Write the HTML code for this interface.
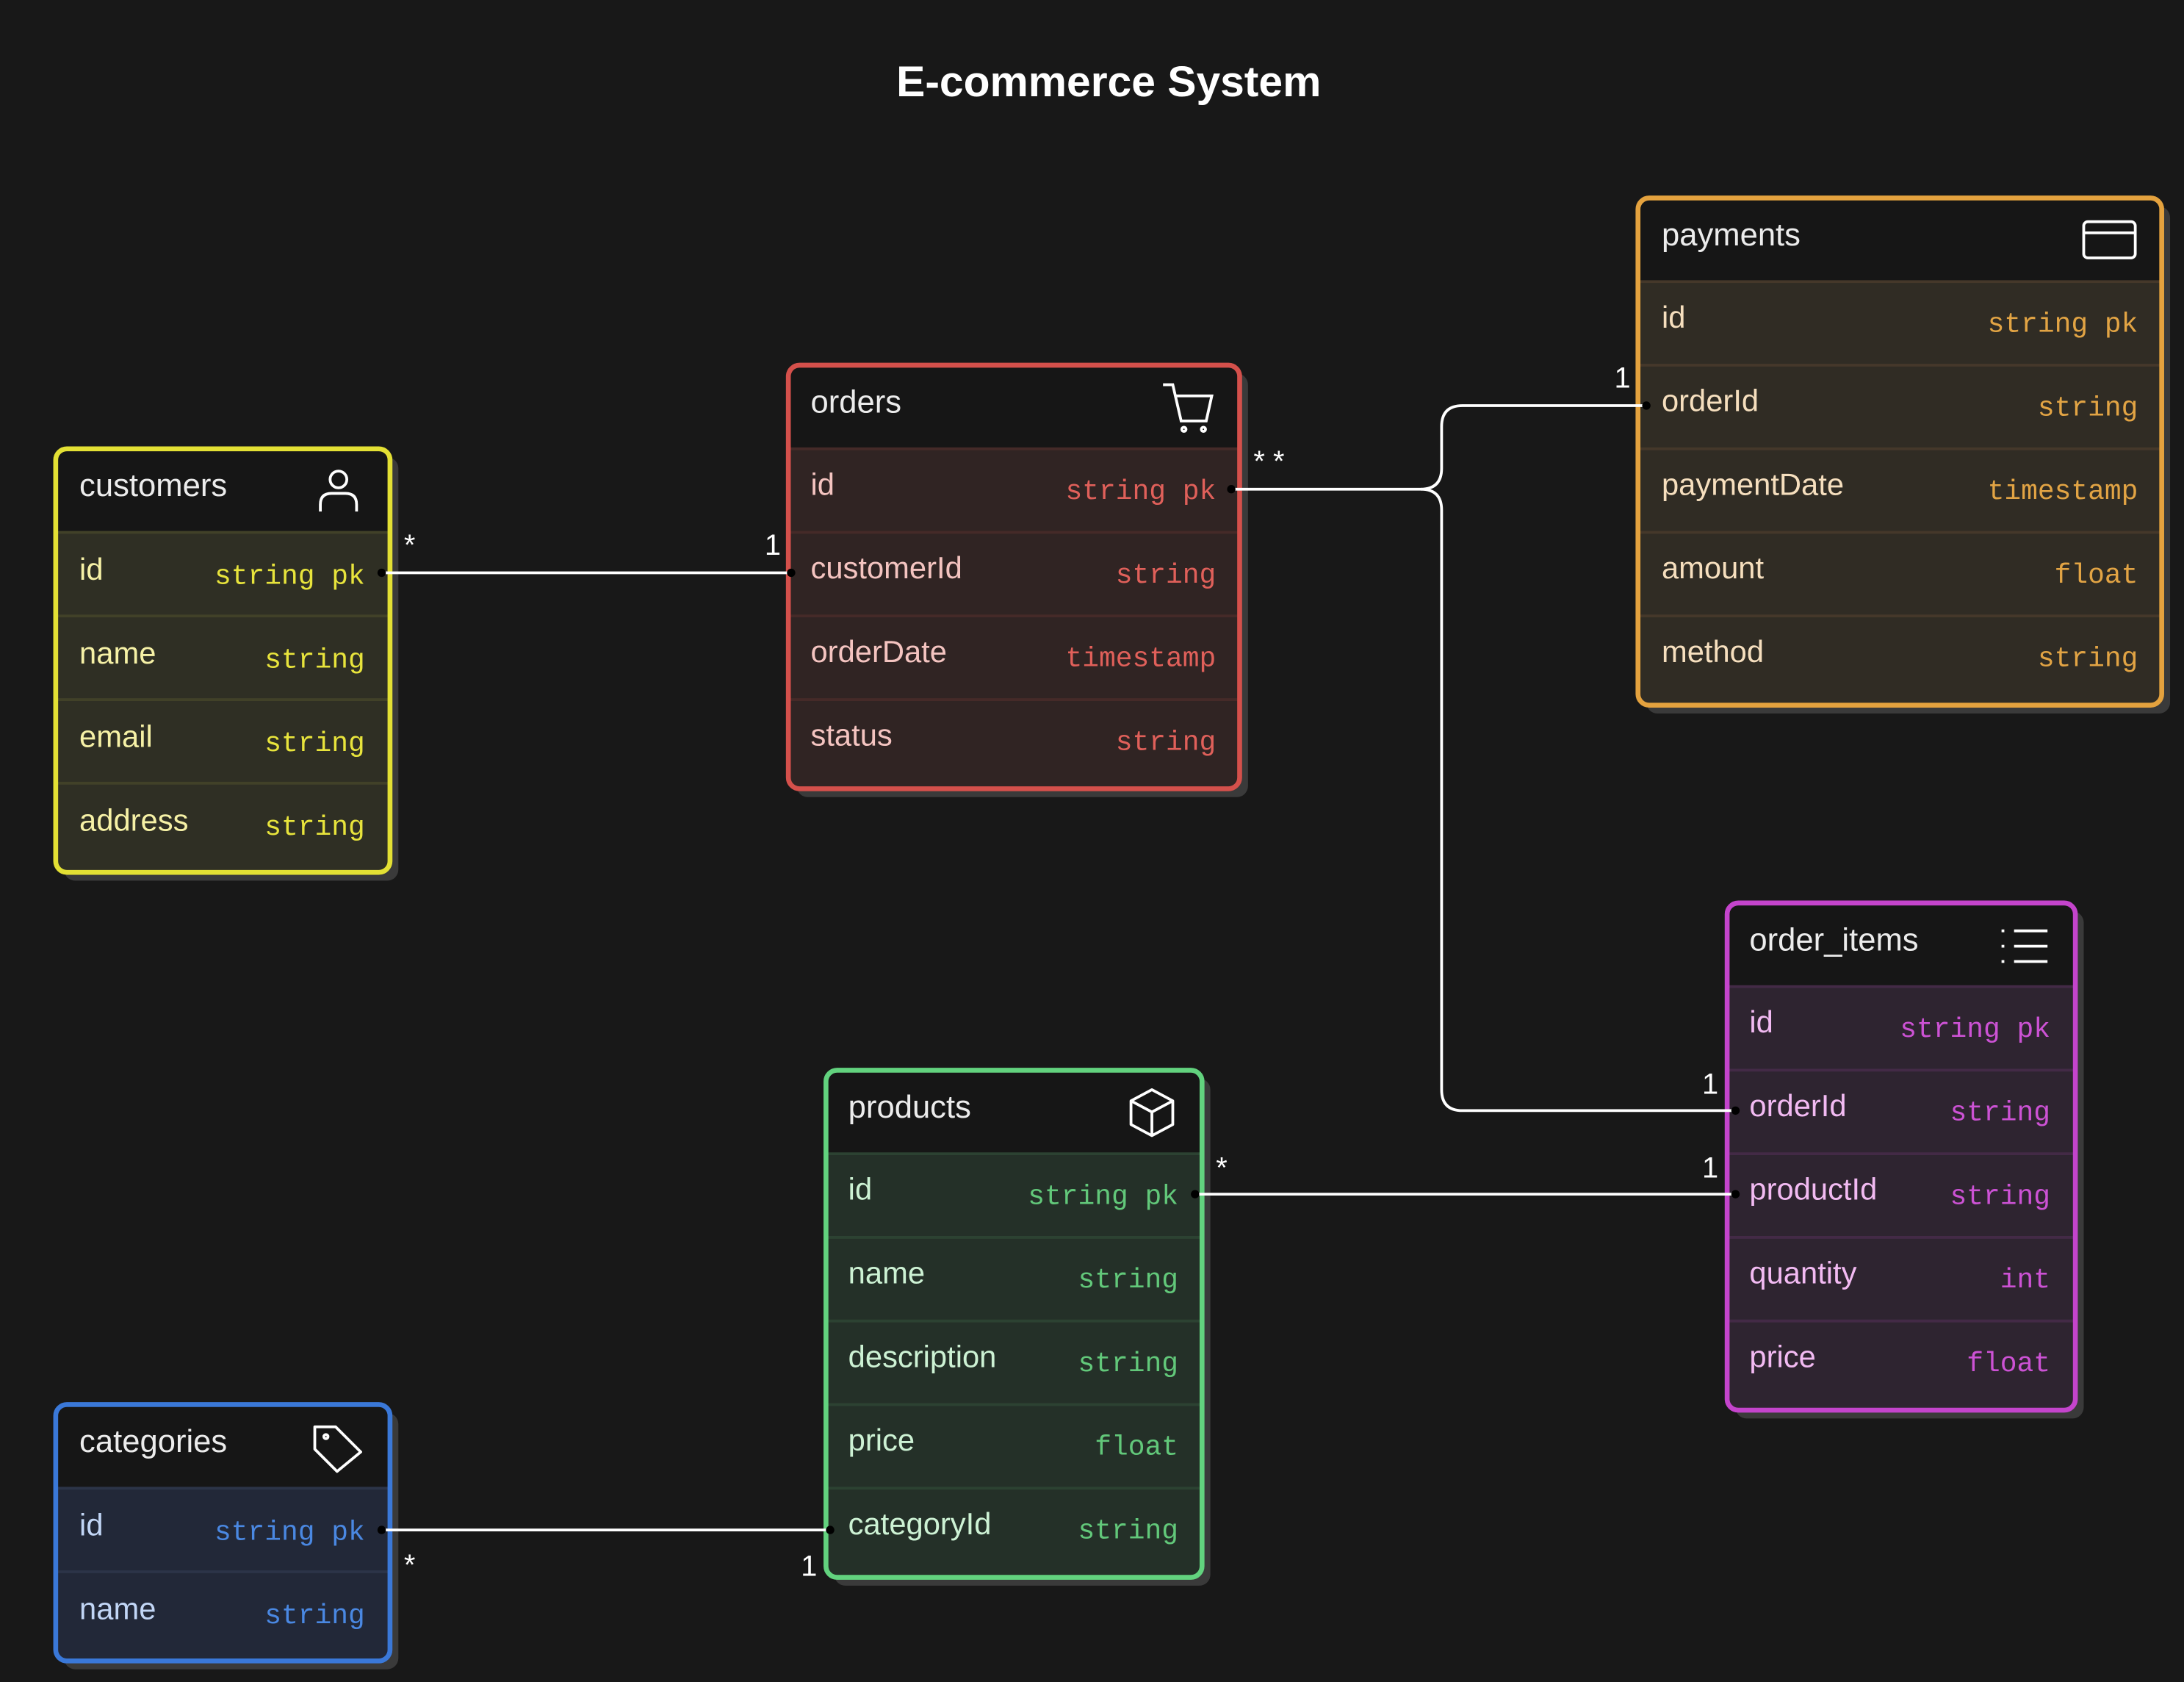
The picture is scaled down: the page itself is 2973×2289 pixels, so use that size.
<!DOCTYPE html>
<html><head><meta charset="utf-8"><style>
html,body{margin:0;padding:0;background:#181818;}
svg{display:block}
.h{font-family:"Liberation Sans",sans-serif;font-size:23px;fill:#ececec}
.n{font-family:"Liberation Sans",sans-serif;font-size:22px}
.t{font-family:"Liberation Mono",monospace;font-size:20px;text-anchor:end}
.l{font-family:"Liberation Sans",sans-serif;font-size:21px;fill:#fff}
</style></head><body>
<svg width="2973" height="2289" viewBox="0 0 1568 1207" xmlns="http://www.w3.org/2000/svg">
<rect width="1568" height="1207" fill="#181818"/>
<text x="796" y="69" text-anchor="middle" font-family="Liberation Sans,sans-serif" font-weight="bold" font-size="31" fill="#fff">E-commerce System</text>

<!-- customers -->
<g>
<rect x="46" y="328" width="240" height="304" rx="8" fill="#3a3a3a"/>
<rect x="40" y="322" width="240" height="304" rx="8" fill="#2f2f24"/>
<path d="M40 382 V330 Q40 322 48 322 H272 Q280 322 280 330 V382 Z" fill="#161616"/>
<g stroke="#414128" stroke-width="2"><line x1="40" y1="382" x2="280" y2="382"/><line x1="40" y1="502" x2="280" y2="502"/><line x1="40" y1="442" x2="280" y2="442"/><line x1="40" y1="562" x2="280" y2="562"/></g>
<rect x="40" y="322" width="240" height="304" rx="8" fill="none" stroke="#e3e034" stroke-width="3.5"/>
<text class="h" x="57" y="356">customers</text>
<g stroke="#fff" stroke-width="2" fill="none"><circle cx="243" cy="344" r="6"/><path d="M230 367 V362 Q230 354 238 354 H248 Q256 354 256 362 V367"/></g>
<g class="n" fill="#f6f1a6"><text x="57" y="416">id</text><text x="57" y="476">name</text><text x="57" y="536">email</text><text x="57" y="596">address</text></g>
<g class="t" fill="#e8e43c"><text x="262" y="419">string pk</text><text x="262" y="479">string</text><text x="262" y="539">string</text><text x="262" y="599">string</text></g>
</g>

<!-- orders -->
<g>
<rect x="572" y="268" width="324" height="304" rx="8" fill="#3a3a3a"/>
<rect x="566" y="262" width="324" height="304" rx="8" fill="#302423"/>
<path d="M566 322 V270 Q566 262 574 262 H882 Q890 262 890 270 V322 Z" fill="#161616"/>
<g stroke="#452a28" stroke-width="2"><line x1="566" y1="322" x2="890" y2="322"/><line x1="566" y1="382" x2="890" y2="382"/><line x1="566" y1="442" x2="890" y2="442"/><line x1="566" y1="502" x2="890" y2="502"/></g>
<rect x="566" y="262" width="324" height="304" rx="8" fill="none" stroke="#d4504b" stroke-width="3.5"/>
<text class="h" x="582" y="296">orders</text>
<g stroke="#fff" stroke-width="2" fill="none"><path d="M835 276 H842 L848 302 H866 L870 284 H844"/><circle cx="850" cy="308" r="1.5"/><circle cx="864" cy="308" r="1.5"/></g>
<g class="n" fill="#f4c4c0"><text x="582" y="355">id</text><text x="582" y="415">customerId</text><text x="582" y="475">orderDate</text><text x="582" y="535">status</text></g>
<g class="t" fill="#e0605a"><text x="873" y="358">string pk</text><text x="873" y="418">string</text><text x="873" y="478">timestamp</text><text x="873" y="538">string</text></g>
</g>

<!-- payments -->
<g>
<rect x="1182" y="148" width="376" height="364" rx="8" fill="#3a3a3a"/>
<rect x="1176" y="142" width="376" height="364" rx="8" fill="#302c24"/>
<path d="M1176 202 V150 Q1176 142 1184 142 H1544 Q1552 142 1552 150 V202 Z" fill="#161616"/>
<g stroke="#45382a" stroke-width="2"><line x1="1176" y1="202" x2="1552" y2="202"/><line x1="1176" y1="262" x2="1552" y2="262"/><line x1="1176" y1="322" x2="1552" y2="322"/><line x1="1176" y1="382" x2="1552" y2="382"/><line x1="1176" y1="442" x2="1552" y2="442"/></g>
<rect x="1176" y="142" width="376" height="364" rx="8" fill="none" stroke="#e4a23e" stroke-width="3.5"/>
<text class="h" x="1193" y="176">payments</text>
<g stroke="#fff" stroke-width="2" fill="none"><rect x="1496" y="159" width="37" height="26" rx="3"/><line x1="1496" y1="167" x2="1533" y2="167"/></g>
<g class="n" fill="#f6dfbe"><text x="1193" y="235">id</text><text x="1193" y="295">orderId</text><text x="1193" y="355">paymentDate</text><text x="1193" y="415">amount</text><text x="1193" y="475">method</text></g>
<g class="t" fill="#e2a444"><text x="1535" y="238">string pk</text><text x="1535" y="298">string</text><text x="1535" y="358">timestamp</text><text x="1535" y="418">float</text><text x="1535" y="478">string</text></g>
</g>

<!-- order_items -->
<g>
<rect x="1246" y="654" width="250" height="364" rx="8" fill="#3a3a3a"/>
<rect x="1240" y="648" width="250" height="364" rx="8" fill="#2e2430"/>
<path d="M1240 708 V656 Q1240 648 1248 648 H1482 Q1490 648 1490 656 V708 Z" fill="#161616"/>
<g stroke="#432a46" stroke-width="2"><line x1="1240" y1="708" x2="1490" y2="708"/><line x1="1240" y1="768" x2="1490" y2="768"/><line x1="1240" y1="828" x2="1490" y2="828"/><line x1="1240" y1="888" x2="1490" y2="888"/><line x1="1240" y1="948" x2="1490" y2="948"/></g>
<rect x="1240" y="648" width="250" height="364" rx="8" fill="none" stroke="#c444cc" stroke-width="3.5"/>
<text class="h" x="1256" y="682">order_items</text>
<g stroke="#fff" stroke-width="2"><line x1="1446" y1="668" x2="1470" y2="668"/><line x1="1446" y1="679" x2="1470" y2="679"/><line x1="1446" y1="690" x2="1470" y2="690"/><line x1="1437" y1="668" x2="1439" y2="668"/><line x1="1437" y1="679" x2="1439" y2="679"/><line x1="1437" y1="690" x2="1439" y2="690"/></g>
<g class="n" fill="#f2baf2"><text x="1256" y="741">id</text><text x="1256" y="801">orderId</text><text x="1256" y="861">productId</text><text x="1256" y="921">quantity</text><text x="1256" y="981">price</text></g>
<g class="t" fill="#cc52d4"><text x="1472" y="744">string pk</text><text x="1472" y="804">string</text><text x="1472" y="864">string</text><text x="1472" y="924">int</text><text x="1472" y="984">float</text></g>
</g>

<!-- products -->
<g>
<rect x="599" y="774" width="270" height="364" rx="8" fill="#3a3a3a"/>
<rect x="593" y="768" width="270" height="364" rx="8" fill="#243028"/>
<path d="M593 828 V776 Q593 768 601 768 H855 Q863 768 863 776 V828 Z" fill="#161616"/>
<g stroke="#2c4232" stroke-width="2"><line x1="593" y1="828" x2="863" y2="828"/><line x1="593" y1="888" x2="863" y2="888"/><line x1="593" y1="948" x2="863" y2="948"/><line x1="593" y1="1008" x2="863" y2="1008"/><line x1="593" y1="1068" x2="863" y2="1068"/></g>
<rect x="593" y="768" width="270" height="364" rx="8" fill="none" stroke="#62d27e" stroke-width="3.5"/>
<text class="h" x="609" y="802">products</text>
<g stroke="#fff" stroke-width="2" fill="none" stroke-linejoin="round"><path d="M827 782 L842 790 V807 L827 815 L812 807 V790 Z"/><path d="M812 790 L827 798 L842 790 M827 798 V815"/></g>
<g class="n" fill="#cdf2d4"><text x="609" y="861">id</text><text x="609" y="921">name</text><text x="609" y="981">description</text><text x="609" y="1041">price</text><text x="609" y="1101">categoryId</text></g>
<g class="t" fill="#62c87a"><text x="846" y="864">string pk</text><text x="846" y="924">string</text><text x="846" y="984">string</text><text x="846" y="1044">float</text><text x="846" y="1104">string</text></g>
</g>

<!-- categories -->
<g>
<rect x="46" y="1014" width="240" height="184" rx="8" fill="#3a3a3a"/>
<rect x="40" y="1008" width="240" height="184" rx="8" fill="#222838"/>
<path d="M40 1068 V1016 Q40 1008 48 1008 H272 Q280 1008 280 1016 V1068 Z" fill="#161616"/>
<g stroke="#2c3448" stroke-width="2"><line x1="40" y1="1068" x2="280" y2="1068"/><line x1="40" y1="1128" x2="280" y2="1128"/></g>
<rect x="40" y="1008" width="240" height="184" rx="8" fill="none" stroke="#3a78d8" stroke-width="3.5"/>
<text class="h" x="57" y="1042">categories</text>
<g stroke="#fff" stroke-width="2" fill="none" stroke-linejoin="round"><path d="M226 1024 H241 L259 1042 L242 1056 L226 1040 Z"/><circle cx="234" cy="1031" r="1.5"/></g>
<g class="n" fill="#c2d6f6"><text x="57" y="1102">id</text><text x="57" y="1162">name</text></g>
<g class="t" fill="#4a88e2"><text x="262" y="1105">string pk</text><text x="262" y="1165">string</text></g>
</g>

<!-- connectors -->
<g stroke="#fff" stroke-width="2" fill="none">
<path d="M274 411 H568"/>
<path d="M884 351 H1020 Q1035 351 1035 336 V306 Q1035 291 1050 291 H1182"/>
<path d="M1020 351 Q1035 351 1035 366 V782 Q1035 797 1050 797 H1246"/>
<path d="M858 857 H1246"/>
<path d="M274 1098 H596"/>
</g>
<g fill="#000">
<circle cx="274" cy="411" r="3"/><circle cx="568" cy="411" r="3"/>
<circle cx="884" cy="351" r="3"/><circle cx="1182" cy="291" r="3"/>
<circle cx="1246" cy="797" r="3"/><circle cx="858" cy="857" r="3"/>
<circle cx="1246" cy="857" r="3"/><circle cx="274" cy="1098" r="3"/><circle cx="596" cy="1098" r="3"/>
</g>
<text class="l" x="290" y="398">*</text><text class="l" x="549" y="398">1</text>
<text class="l" x="900" y="338">* *</text><text class="l" x="1159" y="278">1</text>
<text class="l" x="1222" y="785">1</text><text class="l" x="873" y="845">*</text>
<text class="l" x="1222" y="845">1</text><text class="l" x="290" y="1130">*</text><text class="l" x="575" y="1131">1</text>
</svg>
</body></html>
